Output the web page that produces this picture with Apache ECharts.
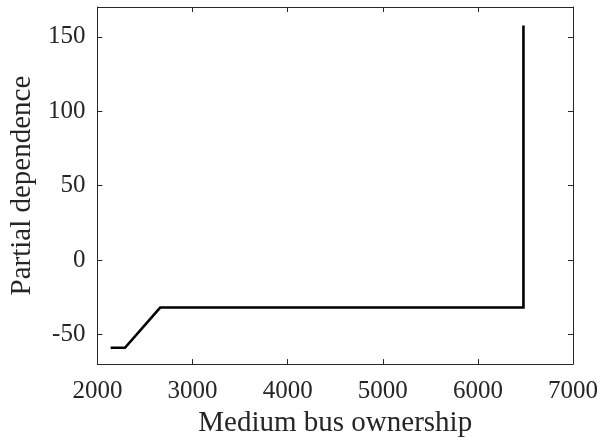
<!DOCTYPE html>
<html>
<head>
<meta charset="utf-8">
<script src="https://cdn.jsdelivr.net/npm/echarts@6/dist/echarts.min.js"></script>
<style>html,body{margin:0;padding:0;background:#fff}#c{width:609px;height:443px}</style>
</head>
<body>
<div id="c"></div>
<script>
var xValues = [2139, 2290, 2660, 6479, 6479];
var yValues = [-59, -59, -32, -32, 157.5];
var yTickValues = [-50, 0, 50, 100, 150];
var xTitle = 'Medium bus ownership';
var yTitle = 'Partial dependence';

var font = '"Liberation Serif", "Times New Roman", serif';
var axisColor = '#262626';
var data = xValues.map(function (x, i) { return [x, yValues[i]]; });
function plain(v) { return String(v); }

var chart = echarts.init(document.getElementById('c'), null, {renderer: 'canvas'});
chart.setOption({
  animation: false,
  backgroundColor: '#fff',
  grid: {left: 93, right: 36, top: 7, bottom: 76, containLabel: false},
  xAxis: [{
    type: 'value', min: 2000, max: 7000, interval: 1000,
    name: xTitle, nameLocation: 'middle', nameGap: 43,
    nameTextStyle: {fontFamily: font, fontSize: 29, color: axisColor},
    axisLine: {onZero: false, lineStyle: {color: axisColor, width: 1}},
    axisTick: {inside: true, length: 5, lineStyle: {color: axisColor}},
    axisLabel: {fontFamily: font, fontSize: 25, color: axisColor, margin: 15, formatter: plain},
    splitLine: {show: false}
  }, {
    type: 'value', position: 'top', min: 2000, max: 7000, interval: 1000,
    axisLine: {show: true, onZero: false, lineStyle: {color: axisColor, width: 1}},
    axisTick: {inside: true, length: 5, lineStyle: {color: axisColor}},
    axisLabel: {show: false}, splitLine: {show: false}
  }],
  yAxis: [{
    type: 'value', min: -70, max: 170,
    name: yTitle, nameLocation: 'middle', nameGap: 54,
    nameTextStyle: {fontFamily: font, fontSize: 29, color: axisColor},
    axisLine: {show: true, onZero: false, lineStyle: {color: axisColor, width: 1}},
    axisTick: {inside: true, length: 5, lineStyle: {color: axisColor}, customValues: yTickValues},
    axisLabel: {fontFamily: font, fontSize: 25, color: axisColor, margin: 12, customValues: yTickValues, formatter: plain},
    splitLine: {show: false}
  }, {
    type: 'value', position: 'right', min: -70, max: 170,
    axisLine: {show: true, onZero: false, lineStyle: {color: axisColor, width: 1}},
    axisTick: {inside: true, length: 5, lineStyle: {color: axisColor}, customValues: yTickValues},
    axisLabel: {show: false}, splitLine: {show: false}
  }],
  series: [{
    type: 'line', xAxisIndex: 0, yAxisIndex: 0,
    data: data, showSymbol: false, symbol: 'none',
    lineStyle: {color: '#000', width: 2.6, join: 'miter'}
  }]
});
</script>
</body>
</html>
